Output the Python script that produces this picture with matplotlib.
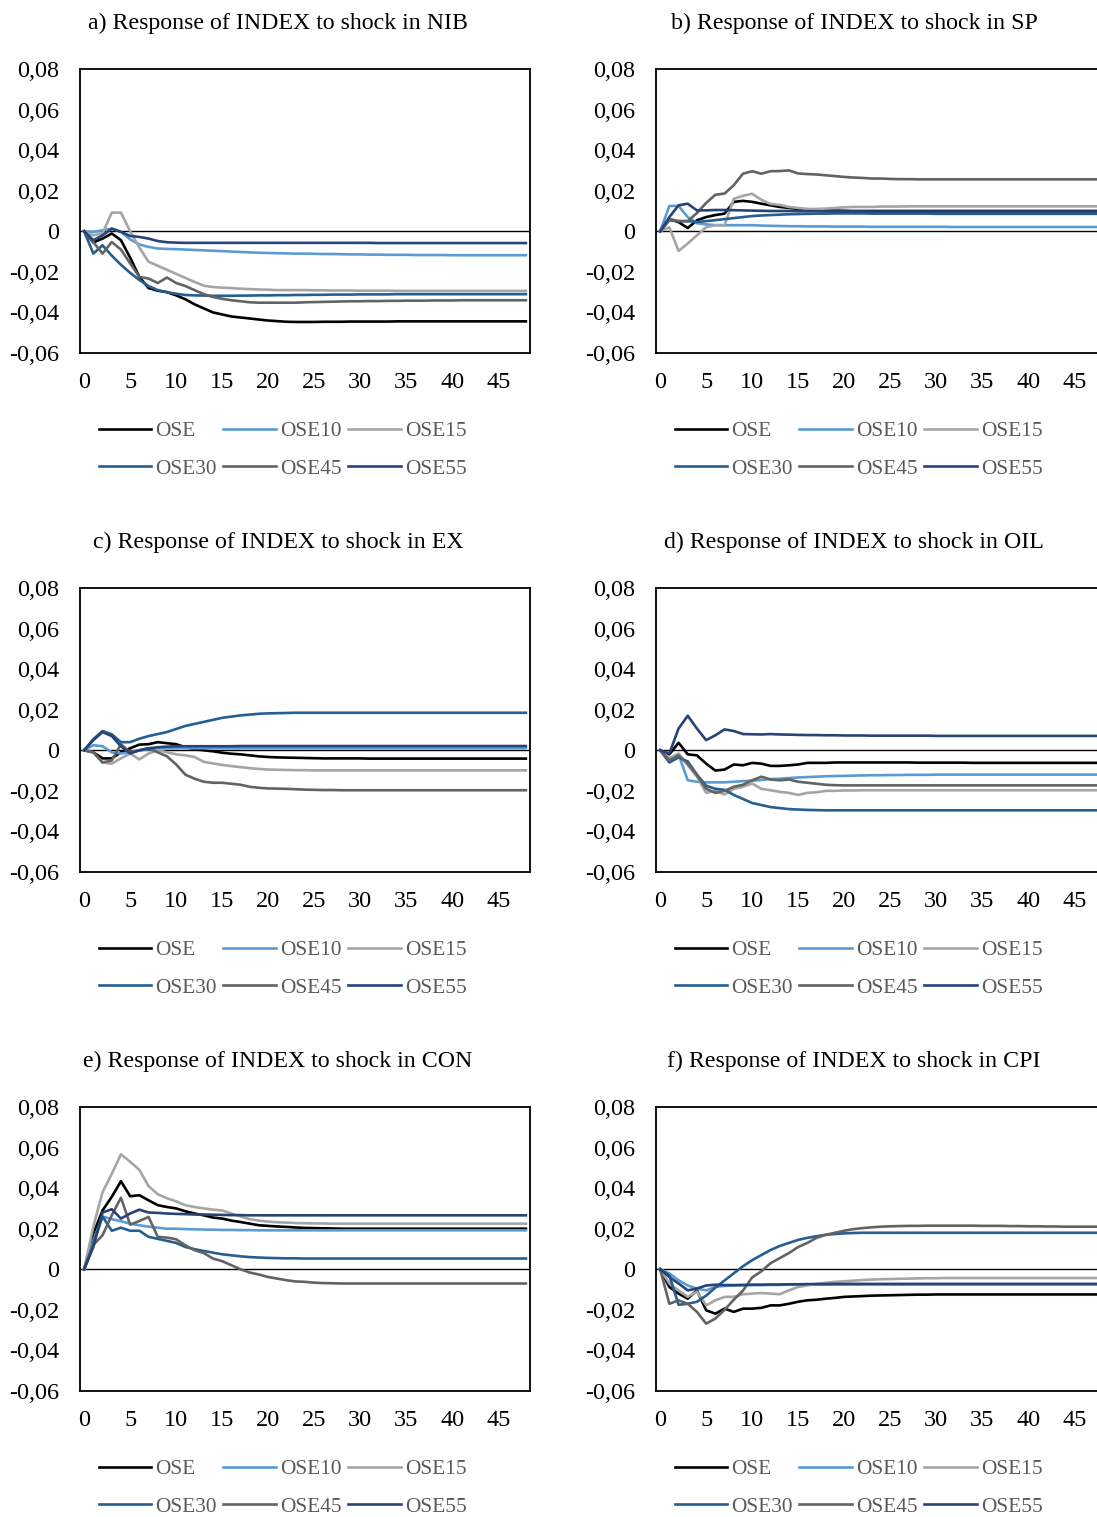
import numpy as np
import matplotlib.pyplot as plt

plt.rcParams['font.family'] = ['Liberation Serif', 'DejaVu Serif']

# periods after the shock
steps = np.arange(49)

series = ['OSE', 'OSE10', 'OSE15', 'OSE30', 'OSE45', 'OSE55']
colors = ['#000000', '#5B9BD5', '#A5A5A5', '#255E91', '#636363', '#264478']

titles = ['a) Response of INDEX to shock in NIB',
          'b) Response of INDEX to shock in SP',
          'c) Response of INDEX to shock in EX',
          'd) Response of INDEX to shock in OIL',
          'e) Response of INDEX to shock in CON',
          'f) Response of INDEX to shock in CPI']

x_ticks = [0, 5, 10, 15, 20, 25, 30, 35, 40, 45]
y_ticks = [-0.06, -0.04, -0.02, 0.0, 0.02, 0.04, 0.06, 0.08]
y_tick_labels = ['-0,06', '-0,04', '-0,02', '0', '0,02', '0,04', '0,06', '0,08']

# a) NIB
a_ose = [0, -0.0055, -0.0036, -0.0011, -0.0044, -0.013, -0.0225,
         -0.028, -0.0293, -0.030, -0.0316, -0.0335, -0.036, -0.038,
         -0.040, -0.041, -0.042, -0.0425, -0.043, -0.0435, -0.044,
         -0.0443, -0.0446, -0.0447, -0.0447, -0.0447, -0.0446, -0.0446,
         -0.0446, -0.0445, -0.0445, -0.0445, -0.0445, -0.0445, -0.0444,
         -0.0444, -0.0444, -0.0444, -0.0444, -0.0444, -0.0444, -0.0444,
         -0.0444, -0.0444, -0.0444, -0.0444, -0.0444, -0.0444, -0.0444]
a_ose10 = [0, -0.0003, 0.0005, 0.0013, -0.0003, -0.004, -0.0065,
           -0.0077, -0.0085, -0.0087, -0.0088, -0.009, -0.0092, -0.0094,
           -0.0096, -0.0098, -0.010, -0.0102, -0.0104, -0.0106, -0.0107,
           -0.0108, -0.0109, -0.011, -0.011, -0.0111, -0.0112, -0.0112,
           -0.0113, -0.0114, -0.0114, -0.0115, -0.0115, -0.0116, -0.0116,
           -0.0116, -0.0117, -0.0117, -0.0117, -0.0117, -0.0118, -0.0118,
           -0.0118, -0.0118, -0.0118, -0.0118, -0.0118, -0.0118, -0.0118]
a_ose15 = [0, -0.002, -0.001, 0.0092, 0.0092, 0.000, -0.008,
           -0.015, -0.017, -0.019, -0.021, -0.023, -0.025, -0.0268,
           -0.0275, -0.0278, -0.028, -0.0283, -0.0285, -0.0287, -0.0288,
           -0.029, -0.029, -0.029, -0.029, -0.0291, -0.0291, -0.0292,
           -0.0292, -0.0292, -0.0293, -0.0293, -0.0293, -0.0293, -0.0294,
           -0.0294, -0.0294, -0.0294, -0.0294, -0.0294, -0.0294, -0.0294,
           -0.0294, -0.0294, -0.0294, -0.0294, -0.0294, -0.0294, -0.0294]
a_ose30 = [0, -0.011, -0.0069, -0.012, -0.0165, -0.0205, -0.024,
           -0.027, -0.029, -0.030, -0.0308, -0.0314, -0.0316, -0.0317,
           -0.0318, -0.0318, -0.0318, -0.0317, -0.0317, -0.0316, -0.0316,
           -0.0315, -0.0315, -0.0314, -0.0314, -0.0313, -0.0313, -0.0312,
           -0.0312, -0.0312, -0.0311, -0.0311, -0.0311, -0.0311, -0.031,
           -0.031, -0.031, -0.031, -0.031, -0.031, -0.031, -0.031,
           -0.031, -0.031, -0.031, -0.031, -0.031, -0.031, -0.031]
a_ose45 = [0, -0.0053, -0.011, -0.0053, -0.009, -0.0158, -0.0225,
           -0.0233, -0.0255, -0.0228, -0.0255, -0.027, -0.029, -0.031,
           -0.0324, -0.0333, -0.034, -0.0345, -0.035, -0.0352, -0.0352,
           -0.0352, -0.0352, -0.0352, -0.035, -0.0349, -0.0348, -0.0347,
           -0.0346, -0.0345, -0.0345, -0.0344, -0.0344, -0.0343, -0.0343,
           -0.0342, -0.0342, -0.0342, -0.0341, -0.0341, -0.0341, -0.034,
           -0.034, -0.034, -0.034, -0.034, -0.034, -0.034, -0.034]
a_ose55 = [0, -0.0044, -0.002, 0.0013, -0.0003, -0.0023, -0.0028,
           -0.0036, -0.0048, -0.0054, -0.0056, -0.0057, -0.0057, -0.0057,
           -0.0057, -0.0057, -0.0057, -0.0057, -0.0057, -0.0057, -0.0057,
           -0.0057, -0.0057, -0.0057, -0.0057, -0.0057, -0.0057, -0.0057,
           -0.0057, -0.0057, -0.0057, -0.0057, -0.0058, -0.0058, -0.0058,
           -0.0058, -0.0058, -0.0058, -0.0058, -0.0058, -0.0058, -0.0058,
           -0.0058, -0.0058, -0.0058, -0.0058, -0.0058, -0.0058, -0.0058]

# b) SP
b_ose = [0, 0.006, 0.0045, 0.0016, 0.0054, 0.007, 0.008,
         0.0087, 0.0145, 0.015, 0.0145, 0.0136, 0.0128, 0.012,
         0.0115, 0.011, 0.0108, 0.0105, 0.0103, 0.0102, 0.0101,
         0.010, 0.010, 0.010, 0.010, 0.010, 0.010, 0.010,
         0.010, 0.010, 0.010, 0.010, 0.010, 0.010, 0.010,
         0.010, 0.010, 0.010, 0.010, 0.010, 0.010, 0.010,
         0.010, 0.010, 0.010, 0.010, 0.010, 0.010, 0.010]
b_ose10 = [0, 0.0125, 0.0125, 0.007, 0.004, 0.0034, 0.003,
           0.003, 0.003, 0.003, 0.003, 0.0028, 0.0027, 0.0026,
           0.0025, 0.0025, 0.0024, 0.0024, 0.0024, 0.0023, 0.0023,
           0.0023, 0.0023, 0.0022, 0.0022, 0.0022, 0.0022, 0.0022,
           0.0022, 0.0022, 0.0022, 0.0022, 0.0021, 0.0021, 0.0021,
           0.0021, 0.0021, 0.0021, 0.0021, 0.0021, 0.0021, 0.0021,
           0.0021, 0.0021, 0.0021, 0.0021, 0.0021, 0.0021, 0.0021]
b_ose15 = [0, 0.002, -0.0097, -0.006, -0.002, 0.002, 0.003,
           0.003, 0.016, 0.0175, 0.0185, 0.0155, 0.0135, 0.013,
           0.012, 0.0115, 0.011, 0.011, 0.0112, 0.0115, 0.0118,
           0.012, 0.012, 0.012, 0.0122, 0.0122, 0.0122, 0.0123,
           0.0123, 0.0123, 0.0123, 0.0123, 0.0123, 0.0123, 0.0123,
           0.0123, 0.0123, 0.0123, 0.0123, 0.0123, 0.0123, 0.0123,
           0.0123, 0.0123, 0.0123, 0.0123, 0.0123, 0.0123, 0.0123]
b_ose30 = [0, 0.0054, 0.005, 0.005, 0.0046, 0.005, 0.0055,
           0.006, 0.0065, 0.007, 0.0075, 0.0078, 0.008, 0.0082,
           0.0084, 0.0085, 0.0086, 0.0087, 0.0087, 0.0088, 0.0088,
           0.0088, 0.0088, 0.0087, 0.0087, 0.0087, 0.0087, 0.0087,
           0.0087, 0.0087, 0.0086, 0.0086, 0.0086, 0.0086, 0.0086,
           0.0086, 0.0086, 0.0086, 0.0086, 0.0086, 0.0086, 0.0086,
           0.0086, 0.0086, 0.0086, 0.0086, 0.0086, 0.0086, 0.0086]
b_ose45 = [0, 0.006, 0.005, 0.005, 0.009, 0.014, 0.018,
           0.0186, 0.0227, 0.0284, 0.0296, 0.0284, 0.0296, 0.0297,
           0.030, 0.0285, 0.0282, 0.028, 0.0276, 0.0272, 0.0268,
           0.0265, 0.0263, 0.026, 0.026, 0.0258, 0.0257, 0.0257,
           0.0256, 0.0256, 0.0256, 0.0256, 0.0256, 0.0256, 0.0256,
           0.0256, 0.0256, 0.0256, 0.0256, 0.0256, 0.0256, 0.0256,
           0.0256, 0.0256, 0.0256, 0.0256, 0.0256, 0.0256, 0.0256]
b_ose55 = [0, 0.007, 0.0128, 0.0136, 0.0103, 0.0103, 0.0105,
           0.0105, 0.0104, 0.0103, 0.0102, 0.0101, 0.010, 0.010,
           0.010, 0.0099, 0.0099, 0.0099, 0.0098, 0.0098, 0.0098,
           0.0098, 0.0098, 0.0097, 0.0097, 0.0097, 0.0097, 0.0097,
           0.0097, 0.0097, 0.0097, 0.0097, 0.0097, 0.0097, 0.0097,
           0.0097, 0.0097, 0.0097, 0.0097, 0.0097, 0.0097, 0.0097,
           0.0097, 0.0097, 0.0097, 0.0097, 0.0097, 0.0097, 0.0097]

# c) EX
c_ose = [0, -0.001, -0.004, -0.004, -0.001, 0.001, 0.0028,
         0.003, 0.004, 0.0035, 0.003, 0.0015, 0.0005, 0.000,
         -0.0005, -0.0012, -0.0017, -0.002, -0.0025, -0.003, -0.0033,
         -0.0035, -0.0036, -0.0037, -0.0038, -0.0039, -0.004, -0.004,
         -0.004, -0.004, -0.004, -0.0041, -0.0041, -0.0041, -0.0041,
         -0.0041, -0.0041, -0.0041, -0.0041, -0.0041, -0.0041, -0.0041,
         -0.0041, -0.0041, -0.0041, -0.0041, -0.0041, -0.0041, -0.0041]
c_ose10 = [0, 0.0025, 0.002, -0.001, -0.0016, -0.001, 0.000,
           0.0005, 0.001, 0.001, 0.001, 0.001, 0.001, 0.001,
           0.001, 0.001, 0.001, 0.001, 0.001, 0.001, 0.001,
           0.001, 0.001, 0.001, 0.001, 0.001, 0.001, 0.001,
           0.001, 0.001, 0.001, 0.001, 0.001, 0.001, 0.001,
           0.001, 0.001, 0.001, 0.001, 0.001, 0.001, 0.001,
           0.001, 0.001, 0.001, 0.001, 0.001, 0.001, 0.001]
c_ose15 = [0, -0.001, -0.006, -0.0066, -0.004, -0.0016, -0.0045,
           -0.0016, 0.000, -0.001, -0.002, -0.0025, -0.0033, -0.0057,
           -0.0065, -0.0072, -0.0078, -0.0083, -0.0088, -0.0092, -0.0095,
           -0.0096, -0.0097, -0.0098, -0.0098, -0.0099, -0.0099, -0.0099,
           -0.0099, -0.0099, -0.0099, -0.0099, -0.0099, -0.0099, -0.0099,
           -0.0099, -0.0099, -0.0099, -0.0099, -0.0099, -0.0099, -0.0099,
           -0.0099, -0.0099, -0.0099, -0.0099, -0.0099, -0.0099, -0.0099]
c_ose30 = [0, 0.0055, 0.0095, 0.0079, 0.004, 0.004, 0.0057,
           0.007, 0.008, 0.009, 0.0105, 0.012, 0.013, 0.014,
           0.015, 0.016, 0.0166, 0.0172, 0.0176, 0.018, 0.0182,
           0.0183, 0.0184, 0.0185, 0.0185, 0.0185, 0.0185, 0.0185,
           0.0185, 0.0185, 0.0185, 0.0185, 0.0185, 0.0185, 0.0185,
           0.0185, 0.0185, 0.0185, 0.0185, 0.0185, 0.0185, 0.0185,
           0.0185, 0.0185, 0.0185, 0.0185, 0.0185, 0.0185, 0.0185]
c_ose45 = [0, -0.001, -0.006, -0.005, 0.003, -0.001, 0.000,
           0.001, -0.001, -0.003, -0.007, -0.012, -0.014, -0.0155,
           -0.016, -0.016, -0.0165, -0.017, -0.018, -0.0185, -0.0188,
           -0.0189, -0.019, -0.0192, -0.0194, -0.0195, -0.0196, -0.0196,
           -0.0197, -0.0197, -0.0197, -0.0197, -0.0197, -0.0197, -0.0197,
           -0.0197, -0.0197, -0.0197, -0.0197, -0.0197, -0.0197, -0.0197,
           -0.0197, -0.0197, -0.0197, -0.0197, -0.0197, -0.0197, -0.0197]
c_ose55 = [0, 0.005, 0.009, 0.007, 0.002, -0.0016, 0.000,
           0.001, 0.0015, 0.0018, 0.002, 0.002, 0.002, 0.002,
           0.002, 0.002, 0.002, 0.0021, 0.0021, 0.0021, 0.0021,
           0.0021, 0.0021, 0.0021, 0.0021, 0.0021, 0.0021, 0.0021,
           0.0021, 0.0021, 0.0021, 0.0021, 0.0021, 0.0021, 0.0021,
           0.0021, 0.0021, 0.0021, 0.0021, 0.0021, 0.0021, 0.0021,
           0.0021, 0.0021, 0.0021, 0.0021, 0.0021, 0.0021, 0.0021]

# d) OIL
d_ose = [0, -0.002, 0.0037, -0.002, -0.0025, -0.0066, -0.010,
         -0.0095, -0.007, -0.0074, -0.0062, -0.0066, -0.0077, -0.0077,
         -0.0074, -0.007, -0.0062, -0.0062, -0.0062, -0.006, -0.006,
         -0.006, -0.006, -0.006, -0.006, -0.006, -0.006, -0.006,
         -0.0061, -0.0061, -0.0061, -0.0061, -0.0061, -0.0061, -0.0062,
         -0.0062, -0.0062, -0.0062, -0.0062, -0.0062, -0.0062, -0.0062,
         -0.0062, -0.0062, -0.0062, -0.0062, -0.0062, -0.0062, -0.0062]
d_ose10 = [0, -0.004, -0.002, -0.0148, -0.0155, -0.0158, -0.0158,
           -0.0158, -0.0155, -0.0152, -0.015, -0.0146, -0.0142, -0.014,
           -0.0137, -0.0134, -0.0132, -0.013, -0.0128, -0.0127, -0.0126,
           -0.0125, -0.0124, -0.0123, -0.0123, -0.0122, -0.0122, -0.0121,
           -0.0121, -0.0121, -0.012, -0.012, -0.012, -0.012, -0.012,
           -0.012, -0.012, -0.012, -0.012, -0.012, -0.012, -0.012,
           -0.012, -0.012, -0.012, -0.012, -0.012, -0.012, -0.012]
d_ose15 = [0, -0.004, -0.0016, -0.0074, -0.013, -0.021, -0.020,
           -0.0218, -0.019, -0.018, -0.0164, -0.019, -0.0197, -0.0205,
           -0.021, -0.022, -0.021, -0.0207, -0.020, -0.020, -0.0198,
           -0.0198, -0.0197, -0.0197, -0.0197, -0.0197, -0.0197, -0.0197,
           -0.0197, -0.0197, -0.0197, -0.0197, -0.0197, -0.0197, -0.0197,
           -0.0197, -0.0197, -0.0197, -0.0197, -0.0197, -0.0197, -0.0197,
           -0.0197, -0.0197, -0.0197, -0.0197, -0.0197, -0.0197, -0.0197]
d_ose30 = [0, -0.006, -0.0035, -0.0055, -0.012, -0.0175, -0.019,
           -0.0195, -0.022, -0.024, -0.026, -0.027, -0.028, -0.0285,
           -0.029, -0.0292, -0.0294, -0.0295, -0.0296, -0.0296, -0.0296,
           -0.0296, -0.0296, -0.0296, -0.0296, -0.0296, -0.0296, -0.0296,
           -0.0296, -0.0296, -0.0296, -0.0296, -0.0296, -0.0296, -0.0296,
           -0.0296, -0.0296, -0.0296, -0.0296, -0.0296, -0.0296, -0.0296,
           -0.0296, -0.0296, -0.0296, -0.0296, -0.0296, -0.0296, -0.0296]
d_ose45 = [0, -0.005, -0.0025, -0.0066, -0.0123, -0.019, -0.021,
           -0.020, -0.018, -0.017, -0.0148, -0.013, -0.0144, -0.0148,
           -0.0144, -0.0155, -0.016, -0.0165, -0.017, -0.0172, -0.0173,
           -0.0173, -0.0173, -0.0173, -0.0173, -0.0173, -0.0173, -0.0173,
           -0.0173, -0.0173, -0.0173, -0.0173, -0.0173, -0.0173, -0.0173,
           -0.0173, -0.0173, -0.0173, -0.0173, -0.0173, -0.0173, -0.0173,
           -0.0173, -0.0173, -0.0173, -0.0173, -0.0173, -0.0173, -0.0173]
d_ose55 = [0, -0.0016, 0.0107, 0.017, 0.0107, 0.005, 0.0074,
           0.0103, 0.0095, 0.008, 0.0079, 0.0078, 0.008, 0.0078,
           0.0077, 0.0076, 0.0075, 0.0075, 0.0074, 0.0074, 0.0073,
           0.0073, 0.0073, 0.0072, 0.0072, 0.0072, 0.0072, 0.0072,
           0.0072, 0.0072, 0.0071, 0.0071, 0.0071, 0.0071, 0.0071,
           0.0071, 0.0071, 0.0071, 0.0071, 0.0071, 0.0071, 0.0071,
           0.0071, 0.0071, 0.0071, 0.0071, 0.0071, 0.0071, 0.0071]

# e) CON
e_ose = [0, 0.0176, 0.029, 0.0357, 0.0434, 0.036, 0.0365,
         0.034, 0.0316, 0.0307, 0.030, 0.0286, 0.0275, 0.0266,
         0.0255, 0.025, 0.024, 0.0233, 0.0225, 0.0217, 0.0214,
         0.0211, 0.0209, 0.0206, 0.0204, 0.0203, 0.0202, 0.0201,
         0.020, 0.020, 0.020, 0.020, 0.020, 0.020, 0.020,
         0.020, 0.020, 0.020, 0.020, 0.020, 0.020, 0.020,
         0.020, 0.020, 0.020, 0.020, 0.020, 0.020, 0.020]
e_ose10 = [0, 0.014, 0.026, 0.0247, 0.0237, 0.0225, 0.0217,
           0.021, 0.0205, 0.020, 0.020, 0.0198, 0.0197, 0.0196,
           0.0195, 0.0194, 0.0194, 0.0193, 0.0193, 0.0192, 0.0192,
           0.0192, 0.0192, 0.0192, 0.0192, 0.0192, 0.0192, 0.0192,
           0.0192, 0.0192, 0.0192, 0.0192, 0.0192, 0.0192, 0.0192,
           0.0192, 0.0192, 0.0192, 0.0192, 0.0192, 0.0192, 0.0192,
           0.0192, 0.0192, 0.0192, 0.0192, 0.0192, 0.0192, 0.0192]
e_ose15 = [0, 0.021, 0.038, 0.047, 0.0567, 0.053, 0.049,
           0.041, 0.037, 0.035, 0.0335, 0.0316, 0.0307, 0.030,
           0.0294, 0.029, 0.0275, 0.026, 0.0247, 0.024, 0.0235,
           0.0232, 0.023, 0.0228, 0.0227, 0.0226, 0.0226, 0.0225,
           0.0225, 0.0225, 0.0225, 0.0225, 0.0225, 0.0225, 0.0225,
           0.0225, 0.0225, 0.0225, 0.0225, 0.0225, 0.0225, 0.0225,
           0.0225, 0.0225, 0.0225, 0.0225, 0.0225, 0.0225, 0.0225]
e_ose30 = [0, 0.0127, 0.026, 0.019, 0.0205, 0.019, 0.019,
           0.016, 0.015, 0.014, 0.013, 0.011, 0.0099, 0.009,
           0.0082, 0.0074, 0.0069, 0.0064, 0.006, 0.0058, 0.0056,
           0.0055, 0.0054, 0.0054, 0.0053, 0.0053, 0.0053, 0.0053,
           0.0053, 0.0053, 0.0053, 0.0053, 0.0053, 0.0053, 0.0053,
           0.0053, 0.0053, 0.0053, 0.0053, 0.0053, 0.0053, 0.0053,
           0.0053, 0.0053, 0.0053, 0.0053, 0.0053, 0.0053, 0.0053]
e_ose45 = [0, 0.012, 0.0168, 0.0266, 0.0353, 0.022, 0.0238,
           0.0258, 0.016, 0.0156, 0.0148, 0.0118, 0.0094, 0.008,
           0.0053, 0.004, 0.002, 0.000, -0.0016, -0.0026, -0.0038,
           -0.0046, -0.0054, -0.006, -0.0062, -0.0066, -0.0068, -0.0069,
           -0.007, -0.007, -0.007, -0.007, -0.007, -0.007, -0.007,
           -0.007, -0.007, -0.007, -0.007, -0.007, -0.007, -0.007,
           -0.007, -0.007, -0.007, -0.007, -0.007, -0.007, -0.007]
e_ose55 = [0, 0.011, 0.028, 0.0296, 0.025, 0.0275, 0.0294,
           0.028, 0.0278, 0.0275, 0.0273, 0.0272, 0.027, 0.027,
           0.0269, 0.0268, 0.0267, 0.0267, 0.0266, 0.0266, 0.0266,
           0.0266, 0.0266, 0.0266, 0.0266, 0.0266, 0.0266, 0.0266,
           0.0266, 0.0266, 0.0266, 0.0266, 0.0266, 0.0266, 0.0266,
           0.0266, 0.0266, 0.0266, 0.0266, 0.0266, 0.0266, 0.0266,
           0.0266, 0.0266, 0.0266, 0.0266, 0.0266, 0.0266, 0.0266]

# f) CPI
f_ose = [0, -0.0087, -0.012, -0.0145, -0.0104, -0.0202, -0.0219,
         -0.0194, -0.021, -0.0194, -0.0194, -0.019, -0.0178, -0.0178,
         -0.017, -0.016, -0.0153, -0.015, -0.0145, -0.0141, -0.0136,
         -0.0134, -0.0132, -0.013, -0.0129, -0.0128, -0.0127, -0.0126,
         -0.0125, -0.0125, -0.0124, -0.0124, -0.0124, -0.0124, -0.0124,
         -0.0124, -0.0124, -0.0124, -0.0124, -0.0124, -0.0124, -0.0124,
         -0.0124, -0.0124, -0.0124, -0.0124, -0.0124, -0.0124, -0.0124]
f_ose10 = [0, -0.002, -0.0054, -0.008, -0.0095, -0.0104, -0.0087,
           -0.0082, -0.008, -0.0079, -0.0078, -0.0078, -0.0077, -0.0077,
           -0.0076, -0.0076, -0.0075, -0.0075, -0.0075, -0.0075, -0.0075,
           -0.0075, -0.0075, -0.0075, -0.0075, -0.0075, -0.0075, -0.0075,
           -0.0075, -0.0075, -0.0075, -0.0075, -0.0075, -0.0075, -0.0075,
           -0.0075, -0.0075, -0.0075, -0.0075, -0.0075, -0.0075, -0.0075,
           -0.0075, -0.0075, -0.0075, -0.0075, -0.0075, -0.0075, -0.0075]
f_ose15 = [0, -0.007, -0.0104, -0.0136, -0.011, -0.0178, -0.0153,
           -0.0136, -0.0136, -0.0123, -0.012, -0.0117, -0.012, -0.0123,
           -0.0104, -0.0087, -0.0079, -0.0072, -0.0066, -0.0062, -0.0059,
           -0.0056, -0.0053, -0.0051, -0.0049, -0.0048, -0.0047, -0.0046,
           -0.0045, -0.0044, -0.0044, -0.0043, -0.0043, -0.0043, -0.0043,
           -0.0043, -0.0043, -0.0043, -0.0043, -0.0043, -0.0043, -0.0043,
           -0.0043, -0.0043, -0.0043, -0.0043, -0.0043, -0.0043, -0.0043]
f_ose30 = [0, -0.003, -0.0175, -0.017, -0.016, -0.013, -0.009,
           -0.0055, -0.002, 0.0015, 0.0045, 0.007, 0.0095, 0.0115,
           0.013, 0.0145, 0.0155, 0.0163, 0.017, 0.0174, 0.0177,
           0.0179, 0.018, 0.018, 0.018, 0.018, 0.018, 0.018,
           0.018, 0.018, 0.018, 0.018, 0.018, 0.018, 0.018,
           0.018, 0.018, 0.018, 0.018, 0.018, 0.018, 0.018,
           0.018, 0.018, 0.018, 0.018, 0.018, 0.018, 0.018]
f_ose45 = [0, -0.017, -0.0153, -0.017, -0.021, -0.0268, -0.0243,
           -0.020, -0.015, -0.0105, -0.004, -0.001, 0.003, 0.0055,
           0.008, 0.011, 0.013, 0.0155, 0.017, 0.018, 0.019,
           0.0198, 0.0203, 0.0207, 0.021, 0.0212, 0.0213, 0.0214,
           0.0214, 0.0215, 0.0215, 0.0215, 0.0215, 0.0215, 0.0215,
           0.0214, 0.0214, 0.0214, 0.0213, 0.0213, 0.0212, 0.0212,
           0.0211, 0.0211, 0.021, 0.021, 0.021, 0.021, 0.021]
f_ose55 = [0, -0.0038, -0.007, -0.0104, -0.0095, -0.008, -0.0076,
           -0.0078, -0.0078, -0.0077, -0.0076, -0.0076, -0.0075, -0.0075,
           -0.0074, -0.0074, -0.0073, -0.0073, -0.0073, -0.0072, -0.0072,
           -0.0072, -0.0072, -0.0072, -0.0072, -0.0072, -0.0072, -0.0072,
           -0.0072, -0.0072, -0.0072, -0.0072, -0.0072, -0.0072, -0.0072,
           -0.0072, -0.0072, -0.0072, -0.0072, -0.0072, -0.0072, -0.0072,
           -0.0072, -0.0072, -0.0072, -0.0072, -0.0072, -0.0072, -0.0072]

panels = [
    [a_ose, a_ose10, a_ose15, a_ose30, a_ose45, a_ose55],
    [b_ose, b_ose10, b_ose15, b_ose30, b_ose45, b_ose55],
    [c_ose, c_ose10, c_ose15, c_ose30, c_ose45, c_ose55],
    [d_ose, d_ose10, d_ose15, d_ose30, d_ose45, d_ose55],
    [e_ose, e_ose10, e_ose15, e_ose30, e_ose45, e_ose55],
    [f_ose, f_ose10, f_ose15, f_ose30, f_ose45, f_ose55],
]

W, H = 1097, 1517
fig = plt.figure(figsize=(W / 100, H / 100), dpi=100)

col_left = [80, 656]       # pixel position of the plot box
row_top = [69, 588, 1107]
box_w, box_h = 450, 284

# excel legend is filled row by row, matplotlib column by column
leg_order = [0, 3, 1, 4, 2, 5]

for k, data in enumerate(panels):
    left = col_left[k % 2]
    top = row_top[k // 2]
    ax = fig.add_axes([left / W, 1 - (top + box_h) / H, box_w / W, box_h / H])

    handles = []
    for name, color, vals in zip(series, colors, data):
        assert len(vals) == len(steps)
        h, = ax.plot(steps, vals, color=color, lw=1.9, label=name, zorder=3)
        handles.append(h)
    ax.axhline(0, color='black', lw=1.0, zorder=2)

    ax.set_xlim(-0.45, 48.45)
    ax.set_ylim(-0.06, 0.08)
    ax.set_xticks(x_ticks)
    ax.set_yticks(y_ticks)
    ax.set_yticklabels(y_tick_labels)
    ax.tick_params(length=0, labelsize=17.5, colors='black')
    ax.tick_params(axis='y', pad=15)
    ax.tick_params(axis='x', pad=14)
    for sp in ax.spines.values():
        sp.set_linewidth(1.3)
        sp.set_color('black')

    fig.text((left + 198) / W, 1 - (top - 46) / H, titles[k],
             ha='center', va='center', fontsize=17.2)

    leg = ax.legend([handles[i] for i in leg_order],
                    [series[i] for i in leg_order],
                    ncol=3, loc='upper left', frameon=False,
                    bbox_to_anchor=((left + 8) / W, 1 - (top + box_h + 58) / H),
                    bbox_transform=fig.transFigure,
                    fontsize=15.3, handlelength=2.48, handletextpad=0.2,
                    columnspacing=0.3, labelspacing=0.82, borderpad=0)
    for t in leg.get_texts():
        t.set_color('#595959')

fig.savefig('out.png', dpi=100)
